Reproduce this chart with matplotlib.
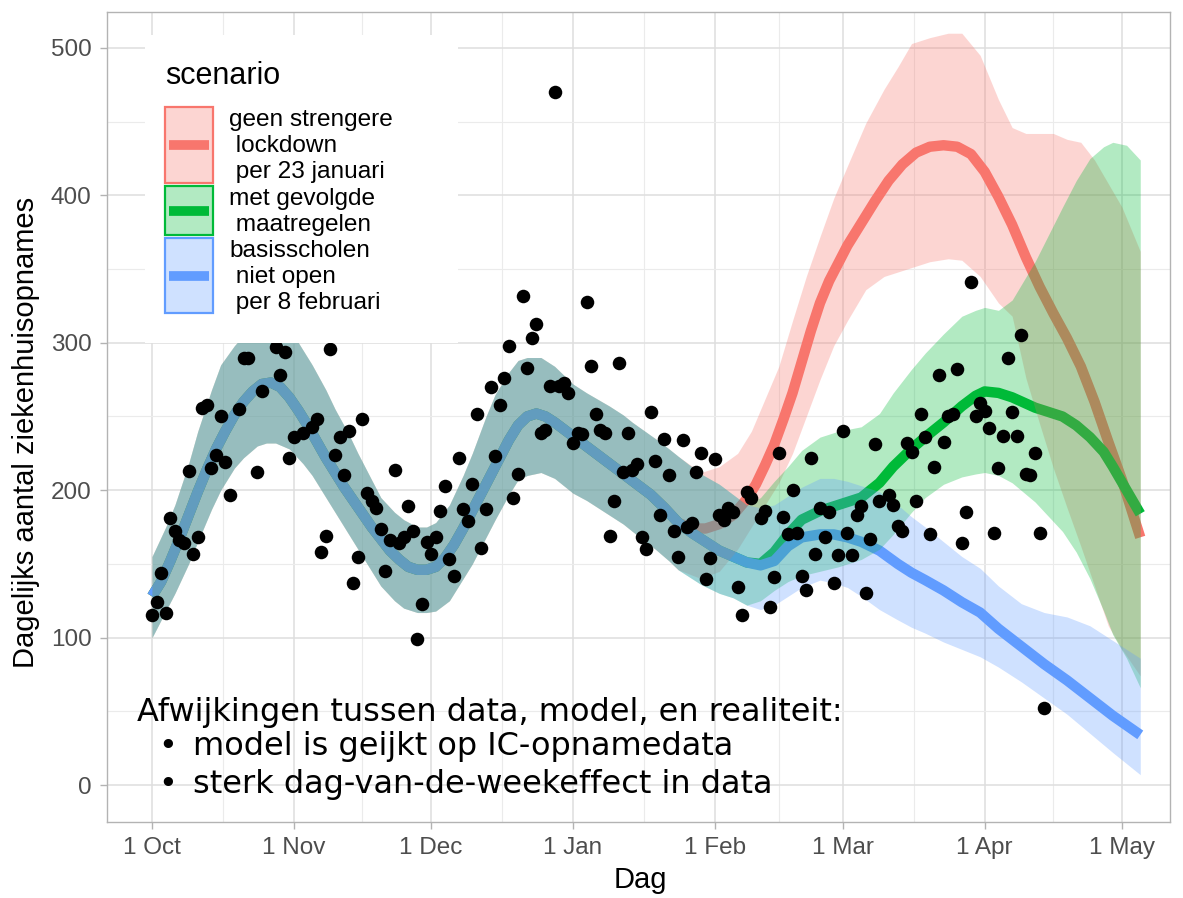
import numpy as np
import matplotlib.pyplot as plt
from matplotlib.patches import Rectangle
from matplotlib.lines import Line2D

# daily hospital admissions, day 0 = 1 Oct 2020
obs_day = [0, 1, 2, 3, 4, 5, 6, 7, 8, 9, 10, 11, 12, 13, 14, 15, 16, 17, 19, 20,
           21, 23, 24, 27, 28, 29, 30, 31, 33, 35, 36, 37, 38, 39, 40, 41, 42, 43, 44, 45,
           46, 47, 48, 49, 50, 51, 52, 53, 54, 55, 56, 57, 58, 59, 60, 61, 62, 63, 64, 65,
           66, 67, 68, 69, 70, 71, 72, 73, 74, 75, 76, 77, 78, 79, 80, 81, 82, 83, 84, 85,
           86, 87, 88, 89, 90, 91, 92, 93, 94, 95, 96, 97, 98, 99, 100, 101, 102, 103, 104, 105,
           106, 107, 108, 109, 110, 111, 112, 113, 114, 115, 116, 117, 118, 119, 120, 121, 122, 123, 124, 125,
           126, 127, 128, 129, 130, 131, 133, 134, 135, 136, 137, 138, 139, 140, 141, 142, 143, 144, 145, 146,
           147, 148, 149, 150, 151, 152, 153, 154, 155, 156, 157, 158, 159, 161, 162, 163, 164, 165, 166, 167,
           168, 169, 170, 171, 172, 173, 174, 175, 176, 177, 178, 179, 180, 181, 182, 183, 184, 185, 186, 187,
           188, 189, 190, 191, 192, 193, 194, 195]
obs_val = [115, 124, 144, 117, 181, 172, 166, 164, 213, 157, 168, 256, 258, 215, 224, 250, 219, 197, 255, 290,
           290, 212, 267, 297, 278, 294, 222, 236, 239, 243, 248, 158, 169, 296, 224, 236, 210, 240, 137, 155,
           248, 198, 193, 188, 174, 145, 166, 214, 164, 168, 189, 172, 99, 123, 165, 157, 168, 186, 203, 153,
           142, 222, 187, 179, 204, 252, 161, 187, 270, 223, 258, 276, 298, 195, 211, 332, 283, 303, 313, 239,
           241, 271, 470, 271, 273, 266, 232, 239, 238, 328, 284, 252, 241, 239, 169, 193, 286, 212, 239, 214,
           218, 168, 160, 253, 220, 183, 235, 210, 172, 155, 234, 175, 178, 212, 225, 140, 154, 221, 183, 180,
           188, 185, 134, 115, 199, 195, 181, 186, 121, 141, 225, 182, 170, 200, 171, 142, 132, 222, 157, 188,
           168, 185, 137, 156, 240, 171, 156, 183, 189, 130, 167, 231, 193, 197, 190, 176, 172, 232, 226, 193,
           252, 236, 170, 216, 278, 233, 250, 252, 282, 164, 185, 341, 250, 259, 254, 242, 171, 215, 237, 290,
           253, 237, 305, 211, 210, 225, 171, 52]

# model fit shared by all scenarios
hist_day = [0, 2, 4, 6, 8, 10, 12, 14, 16, 18, 20, 22, 24, 26, 28, 30, 32, 34, 36, 38,
            40, 42, 44, 46, 48, 50, 52, 54, 56, 58, 60, 62, 64, 66, 68, 70, 72, 74, 76, 78,
            80, 82, 84, 86, 88, 91, 94, 97, 100, 103, 106, 109, 112]
hist_mid = [128, 138, 152, 167, 183, 199, 214, 228, 240, 251, 260, 267, 272, 273, 270, 263, 254, 244, 233, 222,
            212, 202, 193, 184, 175, 167, 159, 153, 148, 146, 146, 148, 154, 163, 174, 186, 198, 210, 222, 234,
            244, 250, 252, 250, 246, 239, 232, 225, 218, 211, 204, 197, 188]
hist_band_day = [0, 3, 5, 8, 10, 13, 15, 18, 20, 23, 25, 27, 30, 33, 35, 38, 40, 43, 45, 48,
                 50, 53, 55, 58, 60, 62, 65, 68, 70, 73, 75, 78, 80, 82, 85, 88, 92, 95, 100, 103,
                 105, 110, 113]
hist_lo = [100, 118, 130, 150, 165, 187, 200, 215, 222, 230, 232, 232, 228, 218, 210, 195, 185, 170, 160, 145,
           135, 125, 120, 117, 117, 118, 125, 140, 150, 168, 180, 197, 207, 210, 212, 208, 198, 193, 183, 177,
           172, 160, 152]
hist_hi = [155, 175, 190, 218, 240, 268, 285, 298, 305, 314, 318, 316, 310, 295, 285, 268, 255, 238, 225, 207,
           195, 185, 180, 175, 175, 178, 190, 210, 225, 250, 265, 280, 288, 290, 290, 284, 272, 266, 257, 251,
           246, 235, 228]

# scenario: no stricter lockdown per 23 January
red_day = [115, 118, 121, 124, 127, 130, 132, 134, 136, 138, 140, 142, 144, 146, 148, 150, 152, 155, 158, 161,
           164, 167, 170, 173, 176, 179, 182, 185, 188, 191, 194, 197, 200, 203, 206, 209, 212, 216]
red_mid = [178, 174, 174, 177, 183, 194, 204, 217, 231, 248, 266, 287, 308, 327, 342, 354, 366, 381, 396, 410,
           421, 429, 433, 434, 433, 428, 416, 399, 380, 358, 338, 320, 303, 284, 260, 233, 207, 168]
red_band_day = [115, 120, 124, 128, 131, 134, 137, 140, 143, 146, 149, 152, 156, 160, 163, 166, 170, 174, 177, 181,
                185, 188, 191, 194, 197, 200, 203, 206, 209, 212, 216]
red_lo = [146, 140, 145, 160, 175, 190, 205, 225, 250, 275, 298, 315, 336, 345, 348, 351, 355, 357, 356, 345,
          327, 318, 276, 245, 215, 188, 162, 135, 108, 92, 74]
red_hi = [223, 212, 216, 225, 240, 262, 284, 315, 345, 372, 398, 420, 449, 472, 487, 503, 507, 510, 510, 495,
          465, 446, 442, 442, 442, 438, 436, 424, 408, 392, 362]

# scenario: measures as taken
green_day = [115, 118, 121, 124, 127, 130, 133, 136, 139, 142, 146, 150, 155, 159, 162, 166, 169, 173, 177, 180,
             182, 185, 188, 193, 199, 202, 205, 208, 210, 213, 216]
green_mid = [178, 171, 165, 159, 155, 151, 150, 158, 170, 180, 186, 190, 195, 205, 216, 228, 236, 246, 257, 264,
             267, 266, 263, 256, 250, 244, 236, 226, 216, 200, 184]
green_band_day = [115, 120, 124, 127, 130, 133, 136, 139, 142, 146, 150, 155, 159, 162, 166, 169, 173, 177, 180, 182,
                  185, 188, 193, 199, 202, 205, 208, 210, 213, 216]
green_lo = [146, 136, 130, 127, 122, 125, 132, 138, 142, 145, 148, 153, 160, 170, 185, 195, 204, 209, 211, 212,
            210, 205, 192, 172, 158, 140, 118, 102, 86, 66]
green_hi = [223, 211, 204, 197, 190, 195, 206, 216, 227, 236, 240, 243, 252, 266, 282, 293, 306, 318, 322, 324,
            322, 329, 355, 392, 410, 425, 433, 436, 434, 424]

# scenario: primary schools not open per 8 February
blue_day = [115, 118, 121, 124, 127, 130, 133, 136, 139, 142, 146, 149, 152, 155, 159, 163, 166, 169, 173, 177,
            181, 185, 190, 195, 200, 205, 210, 216]
blue_mid = [178, 171, 165, 159, 155, 151, 149, 152, 162, 168, 170, 170, 168, 165, 159, 150, 144, 139, 132, 124,
            117, 106, 94, 82, 71, 59, 47, 34]
blue_band_day = [115, 120, 124, 127, 130, 133, 136, 139, 142, 146, 149, 152, 155, 159, 163, 166, 169, 173, 177, 181,
                 185, 190, 195, 200, 205, 210, 216]
blue_lo = [146, 136, 130, 127, 122, 119, 122, 128, 134, 139, 137, 134, 128, 119, 112, 107, 103, 97, 92, 87,
           80, 70, 59, 48, 35, 22, 7]
blue_hi = [223, 211, 204, 197, 190, 188, 190, 196, 202, 208, 208, 206, 203, 199, 190, 182, 175, 165, 155, 147,
           135, 123, 117, 114, 108, 98, 86]

month_ticks = [0, 31, 61, 92, 123, 151, 182, 212]
month_labels = ['1 Oct', '1 Nov', '1 Dec', '1 Jan', '1 Feb', '1 Mar', '1 Apr', '1 May']

scen_colors = ['#F8766D', '#00BA38', '#619CFF']
scen_labels = [['geen strengere', ' lockdown', ' per 23 januari'],
               ['met gevolgde', ' maatregelen'],
               ['basisscholen', ' niet open', ' per 8 februari']]

W, H = 1183, 898
plt.rcParams['font.family'] = ['Liberation Sans', 'DejaVu Sans']

fig = plt.figure(figsize=(W / 100, H / 100), dpi=100)
ax = fig.add_axes([107 / W, 1 - 822 / H, (1170 - 107) / W, (822 - 12) / H])

def fx(x):
    return x / W

def fy(y):
    return 1 - y / H

scen_data = [(red_day, red_mid, red_band_day, red_lo, red_hi),
             (green_day, green_mid, green_band_day, green_lo, green_hi),
             (blue_day, blue_mid, blue_band_day, blue_lo, blue_hi)]

# lines first, ribbons on top of them
for (d, m, bd, lo, hi), c in zip(scen_data, scen_colors):
    ax.plot(hist_day + d, hist_mid + m, color=c, lw=7.5, solid_capstyle='butt', zorder=2)
for (d, m, bd, lo, hi), c in zip(scen_data, scen_colors):
    ax.fill_between(hist_band_day + bd, hist_lo + lo, hist_hi + hi, color=c, alpha=0.3, lw=0, zorder=3)

ax.scatter(obs_day, obs_val, s=95, c='black', lw=0, zorder=5)

ax.set_xlim(-9.84, 222.5)
ax.set_ylim(-25.1, 524.4)
ax.set_xticks(month_ticks)
ax.set_xticklabels(month_labels)
ax.set_xticks([(a + b) / 2 for a, b in zip(month_ticks[:-1], month_ticks[1:])], minor=True)
ax.set_yticks(range(0, 501, 100))
ax.set_yticks(range(50, 501, 100), minor=True)
ax.grid(which='major', color='#dedede', lw=1.1, zorder=0)
ax.grid(which='minor', color='#ebebeb', lw=0.8, zorder=0)
ax.set_axisbelow(True)
for s in ax.spines.values():
    s.set_color('#b3b3b3')
    s.set_linewidth(1)
ax.tick_params(which='major', length=5, width=1, color='#b3b3b3', labelcolor='#4d4d4d',
               labelsize=17.5, pad=6)
ax.tick_params(which='minor', length=0)

fig.text(fx(26), fy(432), 'Dagelijks aantal ziekenhuisopnames', rotation=90,
         ha='center', va='center', fontsize=21)
fig.text(fx(640), fy(880), 'Dag', ha='center', va='center', fontsize=21)

# legend panel
fig.add_artist(Rectangle((fx(145), fy(343)), (458 - 145) / W, (343 - 35) / H,
                         transform=fig.transFigure, facecolor='white', edgecolor='none', zorder=10))
fig.text(fx(165), fy(76), 'scenario', ha='left', va='center', fontsize=22, zorder=11)
key_boxes = [(107, 183), (186, 235), (238, 313)]
line_y = 120
for (top, bot), c, lab in zip(key_boxes, scen_colors, scen_labels):
    fig.add_artist(Rectangle((fx(165), fy(bot)), 48 / W, (bot - top) / H, transform=fig.transFigure,
                             facecolor=c, alpha=0.3, edgecolor='none', zorder=11))
    fig.add_artist(Rectangle((fx(165), fy(bot)), 48 / W, (bot - top) / H, transform=fig.transFigure,
                             facecolor='none', edgecolor=c, lw=1.6, zorder=12))
    yc = (top + bot) / 2
    fig.add_artist(Line2D([fx(169), fx(209)], [fy(yc), fy(yc)], transform=fig.transFigure,
                          color=c, lw=7, solid_capstyle='butt', zorder=12))
    for t in lab:
        fig.text(fx(229), fy(line_y), t, ha='left', va='center', fontsize=17.6, zorder=12)
        line_y += 26.2

# note on the data
note_font = dict(fontsize=23, family='DejaVu Sans', va='center', zorder=13)
fig.text(fx(137), fy(713), 'Afwijkingen tussen data, model, en realiteit:', ha='left', **note_font)
for yy, t in [(747, 'model is geijkt op IC-opnamedata'), (784, 'sterk dag-van-de-weekeffect in data')]:
    fig.text(fx(158), fy(yy), '\u2022', ha='left', **note_font)
    fig.text(fx(193), fy(yy), t, ha='left', **note_font)

fig.savefig('out.png', dpi=100)
